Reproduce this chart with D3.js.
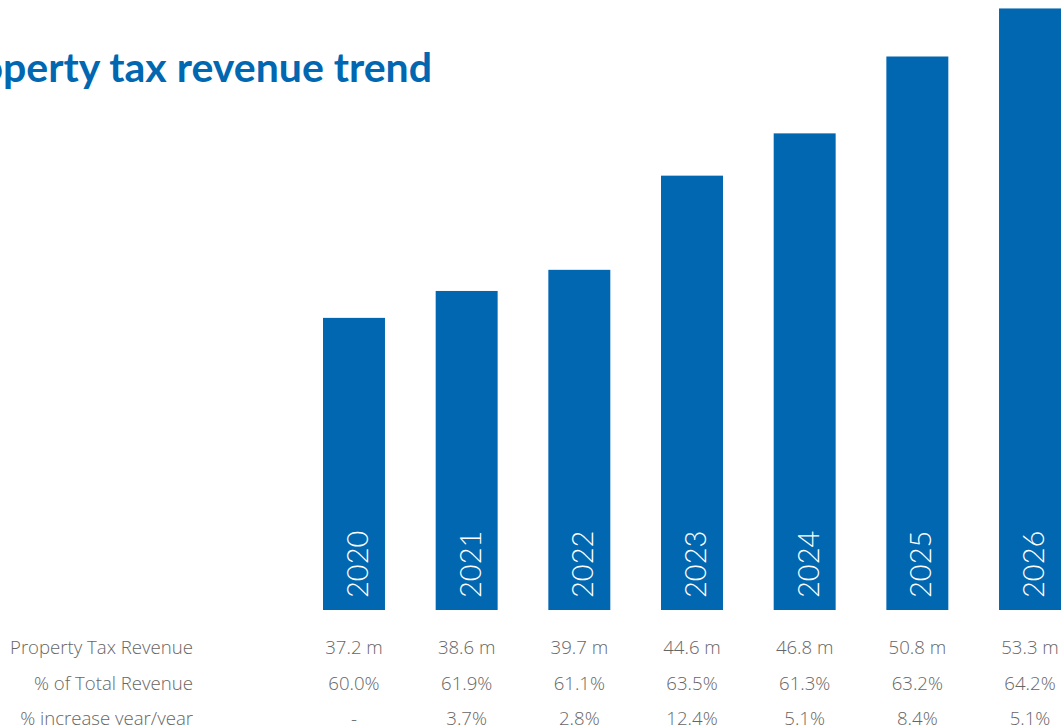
<!DOCTYPE html>
<html>
<head>
<meta charset="utf-8">
<script src="https://cdn.jsdelivr.net/npm/d3@7"></script>
<style>
  body { margin:0; background:#fff; overflow:hidden; }
  svg { display:block; }
</style>
</head>
<body>
<script>
var WIDTH = 1061, HEIGHT = 725

var years = ['2020','2021','2022','2023','2024','2025','2026']
var revenue = [37.2, 38.6, 39.7, 44.6, 46.8, 50.8, 53.3]
var revenueLabels = ['37.2 m','38.6 m','39.7 m','44.6 m','46.8 m','50.8 m','53.3 m']
var pctTotal = ['60.0%','61.9%','61.1%','63.5%','61.3%','63.2%','64.2%']
var pctIncrease = ['-','3.7%','2.8%','12.4%','5.1%','8.4%','5.1%']
var rowLabels = ['Property Tax Revenue','% of Total Revenue','% increase year/year']

var blue = '#0067b0'
var grey = '#666'

var svg = d3.select('body').append('svg')
  .attr('width', WIDTH)
  .attr('height', HEIGHT)

// title, cut at the left edge like the slide
svg.append('text')
  .attr('x', 432)
  .attr('y', 82)
  .attr('text-anchor', 'end')
  .style('font-family', 'Lato, "Open Sans", sans-serif')
  .style('font-weight', 700)
  .style('font-size', '41px')
  .style('fill', blue)
  .text('Property tax revenue trend')

var x = d3.scaleBand()
  .domain(years)
  .range([323, 1061])
  .paddingInner(0.45)
  .paddingOuter(0)

var y = d3.scaleLinear()
  .domain([22, 54])
  .range([610, -5])

var bars = svg.append('g').selectAll('.bar').data(years)
  .enter().append('g')
  .classed('bar', true)

bars.append('rect')
  .attr('x', function(d){ return x(d) })
  .attr('width', x.bandwidth())
  .attr('y', function(d, i){ return y(revenue[i]) })
  .attr('height', function(d, i){ return y(22) - y(revenue[i]) })
  .style('fill', blue)

bars.append('text')
  .attr('transform', function(d){
    return 'translate(' + (x(d) + x.bandwidth()/2 + 14) + ',598) rotate(-90)'
  })
  .style('font-family', 'Lato, "Open Sans", sans-serif')
  .style('font-weight', 300)
  .style('font-size', '29px')
  .style('fill', '#fff')
  .text(function(d){ return d })

// table below the bars
var rows = [revenueLabels, pctTotal, pctIncrease]
var rowY = d3.scalePoint().domain([0,1,2]).range([654, 725])

var table = svg.append('g')
  .style('font-family', '"Open Sans", sans-serif')
  .style('font-weight', 300)
  .style('font-size', '18.6px')
  .style('fill', grey)

table.selectAll('.rowlabel').data(rowLabels)
  .enter().append('text')
  .classed('rowlabel', true)
  .attr('x', 193)
  .attr('y', function(d, i){ return rowY(i) })
  .attr('text-anchor', 'end')
  .text(function(d){ return d })

rows.forEach(function(row, r){
  table.selectAll('.cell' + r).data(row)
    .enter().append('text')
    .classed('cell' + r, true)
    .attr('x', function(d, i){ return x(years[i]) + x.bandwidth()/2 })
    .attr('y', rowY(r))
    .attr('text-anchor', 'middle')
    .text(function(d){ return d })
})
</script>
</body>
</html>
